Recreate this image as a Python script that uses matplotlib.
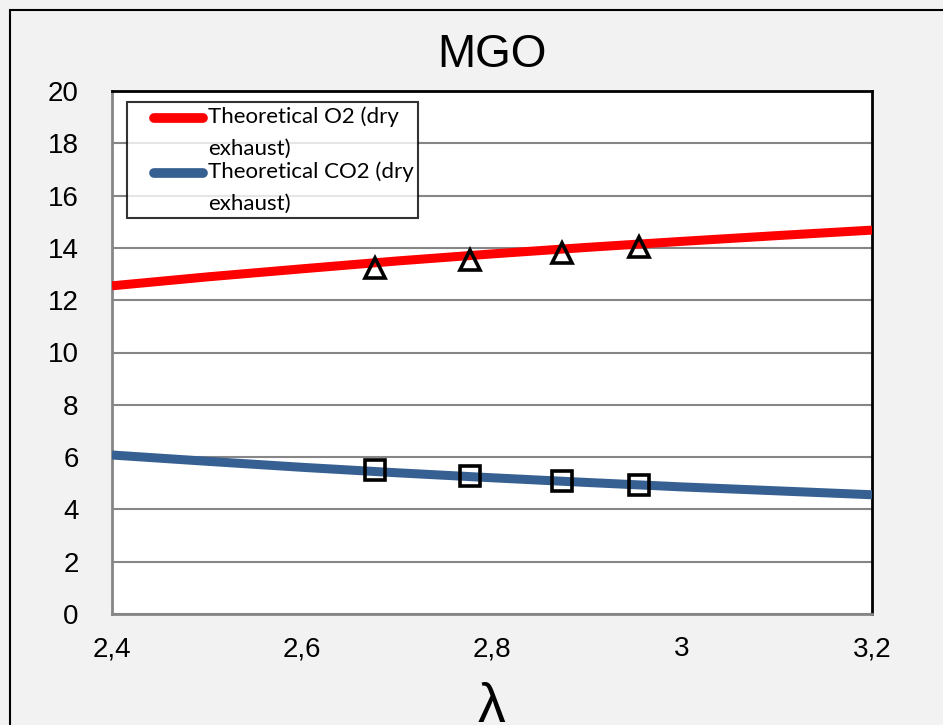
import matplotlib.pyplot as plt
from matplotlib.patches import Rectangle
from matplotlib.ticker import FuncFormatter

# theoretical curves
lam_theory = [2.4, 2.5, 2.6, 2.7, 2.8, 2.9, 3.0, 3.1, 3.2]
o2_theory = [12.55, 12.89, 13.20, 13.50, 13.77, 14.02, 14.25, 14.47, 14.68]
co2_theory = [6.08, 5.84, 5.61, 5.40, 5.21, 5.03, 4.86, 4.71, 4.56]

# measured points
lam_meas = [2.677, 2.777, 2.874, 2.955]
o2_meas = [13.25, 13.52, 13.79, 14.02]
co2_meas = [5.49, 5.26, 5.09, 4.95]

red = '#ff0000'
blue = '#376092'
bg = '#f2f2f2'
tick_font = ['Liberation Sans', 'DejaVu Sans']

fig = plt.figure(figsize=(9.43, 7.25), dpi=100, facecolor=bg)
# chart border (right/bottom edges run off the picture)
fig.patches.append(Rectangle((10 / 943, -0.05), 1.2, 1 - 10 / 725 + 0.05,
                             transform=fig.transFigure, fill=False,
                             edgecolor='black', linewidth=1.5, zorder=0))

ax = fig.add_axes([112 / 943, 1 - 614 / 725, 760 / 943, 523 / 725])
ax.set_facecolor('white')

ax.plot(lam_theory, o2_theory, color=red, linewidth=6.5, solid_capstyle='butt',
        label='Theoretical O2 (dry\nexhaust)', zorder=3)
ax.plot(lam_theory, co2_theory, color=blue, linewidth=6.5, solid_capstyle='butt',
        label='Theoretical CO2 (dry\nexhaust)', zorder=3)
ax.plot(lam_meas, o2_meas, linestyle='none', marker='^', markersize=15,
        markerfacecolor='none', markeredgecolor='black', markeredgewidth=2.6, zorder=4)
ax.plot(lam_meas, co2_meas, linestyle='none', marker='s', markersize=15,
        markerfacecolor='none', markeredgecolor='black', markeredgewidth=2.6, zorder=4)

ax.set_xlim(2.4, 3.2)
ax.set_ylim(0, 20)
ax.set_xticks([2.4, 2.6, 2.8, 3.0, 3.2])
ax.set_yticks(range(0, 21, 2))
ax.xaxis.set_major_formatter(FuncFormatter(lambda v, p: ('%g' % round(v, 1)).replace('.', ',')))
ax.tick_params(length=0, pad=16, labelsize=20)
ax.tick_params(axis='y', pad=24)
for lbl in ax.get_xticklabels() + ax.get_yticklabels():
    lbl.set_family(tick_font)

ax.yaxis.grid(True, color='#868686', linewidth=1.5)
ax.set_axisbelow(True)
for side in ['left', 'bottom']:
    ax.spines[side].set_color('#868686')
    ax.spines[side].set_linewidth(2)
for side in ['right', 'top']:
    ax.spines[side].set_color('black')
    ax.spines[side].set_linewidth(2)

ax.set_title('MGO', fontsize=33, family=tick_font, pad=17)
ax.set_xlabel('λ', fontsize=40, family=tick_font, labelpad=14)

leg_size = 16
leg = ax.legend(loc='upper left', bbox_to_anchor=(15 / 760, 1 - 11 / 523),
                borderaxespad=0, frameon=True, fancybox=False, handlelength=3.4,
                handletextpad=0.05, borderpad=0.2, labelspacing=0.1,
                prop={'family': ['Lato', 'Open Sans', 'DejaVu Sans'], 'size': leg_size})
leg.get_frame().set_edgecolor('black')
leg.get_frame().set_linewidth(1.5)
for t in leg.get_texts():
    t.set_linespacing(1.75)
# handle line sits next to the first text line of each entry
for h in leg.legend_handles:
    h.set_solid_capstyle('round')
    h.set_linewidth(7)
    y0 = h.get_ydata()[0] + 11
    h.set_data([16.5, 3.4 * leg_size - 3], [y0, y0])

fig.savefig('out.png', dpi=100, facecolor=bg)
